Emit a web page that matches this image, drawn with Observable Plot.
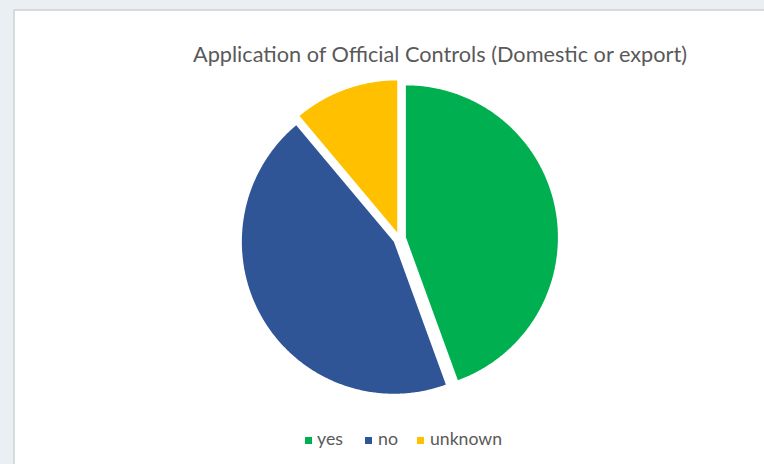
<!DOCTYPE html>
<html>
<head>
<meta charset="utf-8">
<script src="https://cdn.jsdelivr.net/npm/d3@7"></script>
<script src="https://cdn.jsdelivr.net/npm/@observablehq/plot@0.6"></script>
<style>
  html, body { margin: 0; padding: 0; }
  #wrap { position: relative; width: 764px; height: 464px; background: #e9eff3; overflow: hidden; font-family: Lato, "Open Sans", sans-serif; }
  #panel { position: absolute; left: 13px; top: 9px; width: 760px; height: 470px; background: #fff; border-left: 2px solid #d6dadd; border-top: 2px solid #d6dadd; box-sizing: border-box; }
  #chart { position: absolute; left: 0; top: 0; }
</style>
</head>
<body>
<div id="wrap">
  <div id="panel"></div>
  <div id="chart"></div>
</div>
<script>
const titleText = "Application of Official Controls (Domestic or export)";
const categories = ["yes", "no", "unknown"];
const values = [4, 4, 1];
const colors = ["#00b050", "#2f5597", "#ffc000"];

// layout
const cx = 399, cy = 238, r = 152;
const explode = 6.5 / r;

const arcs = d3.pie().sort(null).value(d => d)(values);
const points = [];
arcs.forEach((a, i) => {
  const mid = (a.startAngle + a.endAngle) / 2;
  const ox = explode * Math.sin(mid), oy = explode * Math.cos(mid);
  const cat = categories[i];
  points.push({cat, x: ox, y: oy});
  const n = Math.max(8, Math.ceil((a.endAngle - a.startAngle) / (Math.PI / 360)));
  for (let k = 0; k <= n; k++) {
    const t = a.startAngle + (a.endAngle - a.startAngle) * k / n;
    points.push({cat, x: ox + Math.sin(t), y: oy + Math.cos(t)});
  }
});

const plot = Plot.plot({
  width: 764,
  height: 464,
  margin: 0,
  style: {background: "transparent"},
  x: {domain: [-1, 1], range: [cx - r, cx + r], axis: null},
  y: {domain: [-1, 1], range: [cy + r, cy - r], axis: null},
  color: {domain: categories, range: colors},
  marks: [
    Plot.line(points, {x: "x", y: "y", z: "cat", fill: "cat", stroke: null, curve: "linear-closed"})
  ]
});
document.getElementById("chart").appendChild(plot);

const svg = d3.select(plot);
const font = "Lato, 'Open Sans', sans-serif";

// title
svg.append("text")
  .attr("x", 193).attr("y", 61.5)
  .attr("text-anchor", "start")
  .attr("font-family", font).attr("font-size", 21.5)
  .attr("fill", "#595959")
  .attr("textLength", 494).attr("lengthAdjust", "spacingAndGlyphs")
  .text(titleText);

// legend using plot's color scale
const color = plot.scale("color");
const swX = [305, 365, 417];
const txX = [317, 378, 430];
const txW = [26, 20, 72];
categories.forEach((c, i) => {
  svg.append("rect")
    .attr("x", swX[i]).attr("y", 437).attr("width", 7).attr("height", 7)
    .attr("fill", color.apply(c));
  svg.append("text")
    .attr("x", txX[i]).attr("y", 445)
    .attr("text-anchor", "start")
    .attr("font-family", font).attr("font-size", 17.5)
    .attr("fill", "#595959")
    .attr("textLength", txW[i]).attr("lengthAdjust", "spacingAndGlyphs")
    .text(c);
});
</script>
</body>
</html>
